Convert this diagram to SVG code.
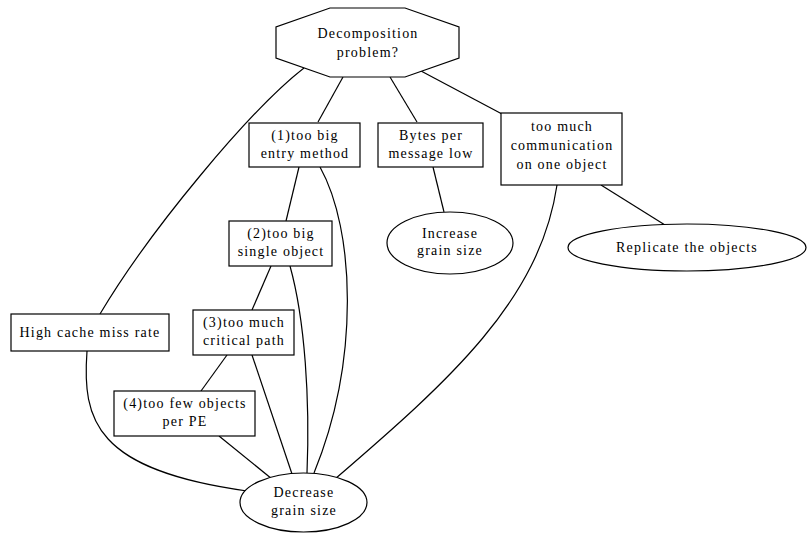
<svg xmlns="http://www.w3.org/2000/svg" width="808" height="534" viewBox="0 0 808 534">
<style>
.n{fill:#fff;stroke:#000;stroke-width:1.2}
.e{fill:none;stroke:#000;stroke-width:1.2}
text{font-family:"Liberation Serif","Times New Roman",serif;font-size:14px;letter-spacing:1.2px;text-anchor:middle;fill:#000}
</style>
<rect width="808" height="534" fill="#fff"/>
<g id="edges">
<line class="e" x1="343" y1="77" x2="318" y2="122"/>
<line class="e" x1="390" y1="77" x2="417" y2="122"/>
<line class="e" x1="421" y1="71" x2="502" y2="114"/>
<path class="e" d="M304,68 C250,110 150,230 100,314"/>
<line class="e" x1="299" y1="167" x2="286" y2="221"/>
<path class="e" d="M320,167 C355,230 360,360 314,473"/>
<line class="e" x1="271" y1="266" x2="252" y2="310"/>
<path class="e" d="M290,266 C305,320 310,400 307,473"/>
<line class="e" x1="227" y1="355" x2="201" y2="391"/>
<line class="e" x1="252" y1="355" x2="292" y2="474"/>
<line class="e" x1="219" y1="436" x2="272" y2="479"/>
<path class="e" d="M87,351 C82,420 95,470 247,491"/>
<path class="e" d="M557,185 C540,300 450,380 335,479"/>
<line class="e" x1="601" y1="185" x2="665" y2="225"/>
<line class="e" x1="433" y1="167" x2="444" y2="212"/>
</g>
<g id="decomp">
<polygon class="n" points="330,8 405,8 459,27 459,58 405,77 330,77 276,58 276,27"/>
<text x="368" y="38">Decomposition</text>
<text x="368" y="57">problem?</text>
</g>
<g id="n1">
<rect class="n" x="249" y="123" width="111" height="44"/>
<text x="305" y="140">(1)too big</text>
<text x="305" y="158">entry method</text>
</g>
<g id="bytes">
<rect class="n" x="378" y="123" width="105" height="44"/>
<text x="431" y="140">Bytes per</text>
<text x="431" y="158">message low</text>
</g>
<g id="comm">
<rect class="n" x="501" y="113" width="121" height="72"/>
<text x="562" y="131">too much</text>
<text x="562" y="150">communication</text>
<text x="562" y="169">on one object</text>
</g>
<g id="n2">
<rect class="n" x="229" y="221" width="103" height="45"/>
<text x="281" y="238">(2)too big</text>
<text x="281" y="256">single object</text>
</g>
<g id="n3">
<rect class="n" x="193" y="310" width="101" height="45"/>
<text x="244" y="327">(3)too much</text>
<text x="244" y="345">critical path</text>
</g>
<g id="cache">
<rect class="n" x="11" y="314" width="158" height="37"/>
<text x="90" y="337">High cache miss rate</text>
</g>
<g id="n4">
<rect class="n" x="114" y="391" width="141" height="45"/>
<text x="185" y="408">(4)too few objects</text>
<text x="185" y="426">per PE</text>
</g>
<g id="increase">
<ellipse class="n" cx="450" cy="243" rx="63" ry="31"/>
<text x="450" y="238">Increase</text>
<text x="450" y="255">grain size</text>
</g>
<g id="replicate">
<ellipse class="n" cx="687" cy="247.5" rx="119" ry="23.5"/>
<text x="687" y="252">Replicate the objects</text>
</g>
<g id="decrease">
<ellipse class="n" cx="303.5" cy="502.5" rx="63.5" ry="29.5"/>
<text x="304" y="497">Decrease</text>
<text x="304" y="515">grain size</text>
</g>
</svg>
